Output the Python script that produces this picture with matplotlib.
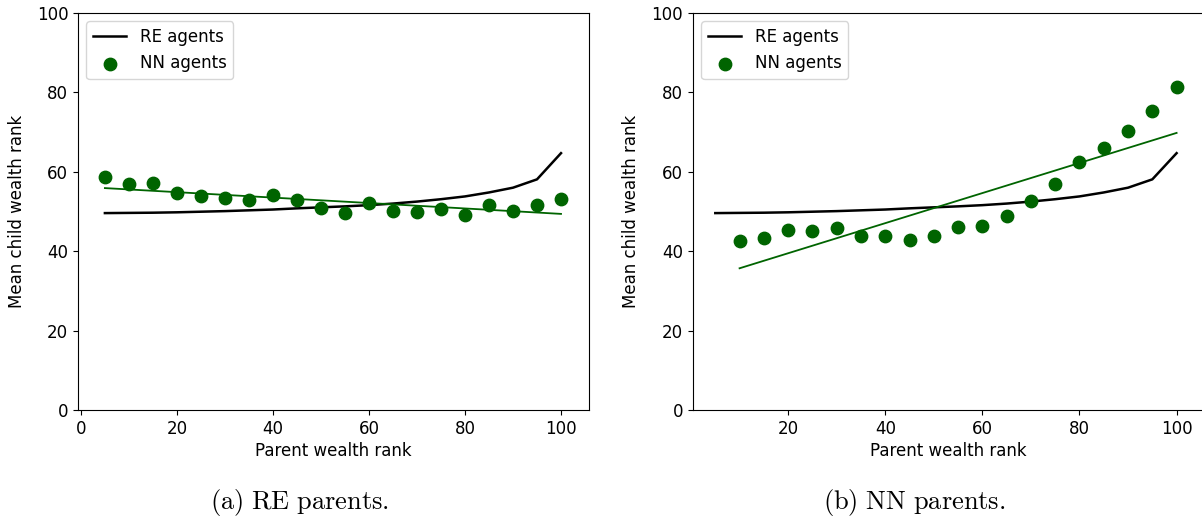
import numpy as np
import matplotlib
matplotlib.use("Agg")
import matplotlib.pyplot as plt

plt.rcParams['mathtext.fontset'] = 'cm'

# parent wealth rank bins
ranks = np.arange(5, 101, 5)

# RE agents (same curve in both panels)
re_agents = [49.6, 49.65, 49.7, 49.8, 49.95, 50.1, 50.3, 50.5, 50.8, 51.05,
             51.3, 51.6, 52.0, 52.5, 53.1, 53.8, 54.8, 56.0, 58.1, 64.7]

# (a) RE parents: NN agents
nn_a = [58.7, 56.9, 57.2, 54.7, 53.9, 53.4, 52.9, 54.2, 52.9, 50.9,
        49.6, 52.1, 50.1, 49.9, 50.6, 49.1, 51.6, 50.1, 51.6, 53.1]
fit_a_x = [5, 100]
fit_a_y = [55.9, 49.4]

# (b) NN parents: NN agents (from rank 10)
ranks_b = np.arange(10, 101, 5)
nn_b = [42.6, 43.3, 45.4, 45.1, 45.9, 43.9, 43.9, 42.7, 43.9, 46.1,
        46.4, 48.9, 52.7, 56.9, 62.4, 66.0, 70.4, 75.3, 81.3]
fit_b_x = [10, 100]
fit_b_y = [35.7, 69.8]

captions = ['(a)\\ RE\\ parents.', '(b)\\ NN\\ parents.']

fig = plt.figure(figsize=(12.02, 5.20), dpi=100)
ax1 = fig.add_axes([0.0649, 0.2115, 0.425, 0.7635])
ax2 = fig.add_axes([0.5765, 0.2115, 0.425, 0.7635])

panels = [
    (ax1, ranks, nn_a, fit_a_x, fit_a_y, (-0.6, 105.8), [0, 20, 40, 60, 80, 100]),
    (ax2, ranks_b, nn_b, fit_b_x, fit_b_y, (0.4, 105.6), [20, 40, 60, 80, 100]),
]

for ax, xs, ys, fx, fy, xlim, xt in panels:
    ax.plot(ranks, re_agents, color='black', lw=1.8, label='RE agents')
    ax.scatter(xs, ys, s=80, color='darkgreen', label='NN agents', zorder=3)
    ax.plot(fx, fy, color='darkgreen', lw=1.3)
    ax.set_xlim(*xlim)
    ax.set_ylim(0, 100)
    ax.set_xticks(xt)
    ax.set_yticks([0, 20, 40, 60, 80, 100])
    ax.tick_params(labelsize=12)
    ax.set_xlabel('Parent wealth rank', fontsize=12, labelpad=3)
    ax.set_ylabel('Mean child wealth rank', fontsize=12, labelpad=8)
    ax.legend(loc='upper left', fontsize=12, scatterpoints=1)

fig.text(0.249, 0.022, '$\\mathrm{' + captions[0] + '}$', fontsize=19, ha='center')
fig.text(0.761, 0.022, '$\\mathrm{' + captions[1] + '}$', fontsize=19, ha='center')

fig.savefig('out.png', dpi=100)
